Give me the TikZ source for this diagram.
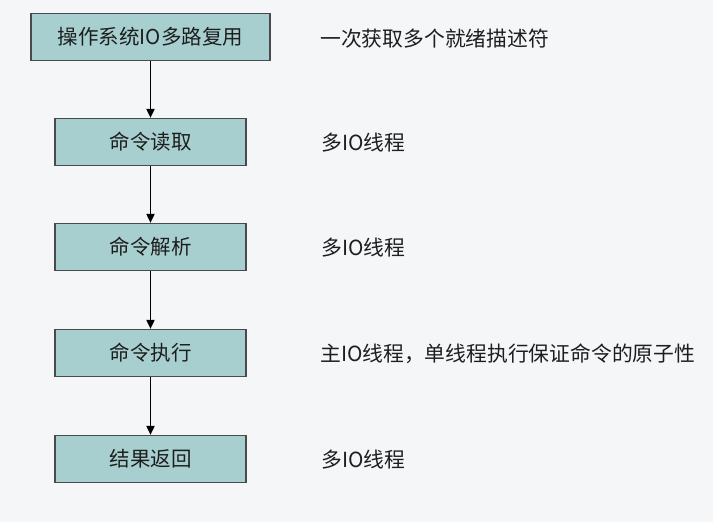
\documentclass[tikz,border=0pt]{standalone}
\usepackage{fontspec}
\setmainfont{Noto Sans CJK SC}
\usetikzlibrary{arrows.meta}
\definecolor{bg}{HTML}{F5F6F8}
\definecolor{boxfill}{HTML}{A8CFCF}
\definecolor{boxline}{HTML}{4A4A4A}
\definecolor{txt}{HTML}{1E1E1E}
\begin{document}
\begin{tikzpicture}[x=1pt,y=-1pt,
  stepbox/.style={draw=boxline,line width=1.2pt,fill=boxfill,minimum height=47pt,inner sep=0pt,text=txt,font=\fontsize{20.5}{24}\selectfont},
  note/.style={anchor=west,inner sep=0pt,text=txt,font=\fontsize{20.8}{24}\selectfont},
  link/.style={draw=black,line width=1.8pt,-{Triangle[length=9pt,width=8pt]}}]
\fill[bg] (0,0) rectangle (713,522);
\useasboundingbox (0,0) rectangle (713,522);
\node[stepbox,minimum width=239pt] (a) at (150.5,37) {操作系统IO多路复用};
\node[stepbox,minimum width=191pt] (b) at (150.5,142) {命令读取};
\node[stepbox,minimum width=191pt] (c) at (150.5,247) {命令解析};
\node[stepbox,minimum width=191pt] (d) at (150.5,353) {命令执行};
\node[stepbox,minimum width=191pt] (e) at (150.5,459) {结果返回};
\draw[link] (a) -- (b);
\draw[link] (b) -- (c);
\draw[link] (c) -- (d);
\draw[link] (d) -- (e);
\node[note] (na) at (320,39) {一次获取多个就绪描述符};
\node[note] (nb) at (321,143) {多IO线程};
\node[note] (nc) at (321,248) {多IO线程};
\node[note] (nd) at (320,354) {主IO线程，单线程执行保证命令的原子性};
\node[note] (ne) at (321,460) {多IO线程};
\end{tikzpicture}
\end{document}
